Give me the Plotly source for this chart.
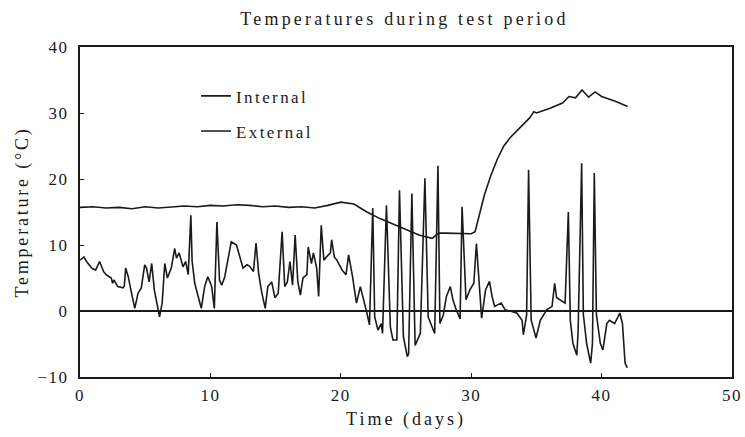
import plotly.graph_objects as go

# Internal temperature (days, °C)
int_days = [0, 1, 2, 3, 4, 5, 6, 7, 8, 9, 10, 11, 12, 13, 14, 15, 16, 17, 18, 19,
            20, 21, 22, 23, 24, 25, 26, 27, 27.5, 28, 29, 30, 30.3, 30.7, 31, 31.5,
            32, 32.5, 33, 33.5, 34, 34.5, 34.8, 35, 36, 37, 37.5, 38, 38.5, 39,
            39.5, 40, 41, 42]
int_temps = [15.7, 15.8, 15.6, 15.7, 15.5, 15.8, 15.6, 15.7, 15.9, 15.8, 16.0, 15.9,
             16.1, 16.0, 15.8, 15.9, 15.7, 15.8, 15.6, 16.0, 16.5, 16.2, 15.0, 14.0,
             13.2, 12.3, 11.5, 11.0, 11.8, 11.8, 11.8, 11.7, 12.0, 15.0, 17.5, 20.5,
             23.0, 25.0, 26.3, 27.3, 28.3, 29.3, 30.2, 30.0, 30.7, 31.5, 32.5, 32.3,
             33.5, 32.4, 33.2, 32.5, 31.8, 31.0]

# External temperature (days, °C)
ext_days = [0.0, 0.3, 0.5, 0.9, 1.2, 1.5, 1.8, 2.0, 2.4, 2.5, 2.6, 2.9, 3.3, 3.4, 3.5,
            3.7, 3.9, 4.2, 4.45, 4.7, 4.96, 5.1, 5.3, 5.5, 5.7, 6.1, 6.3, 6.5, 6.7,
            7.0, 7.26, 7.4, 7.6, 7.9, 8.1, 8.3, 8.5, 8.6, 8.8, 9.1, 9.3, 9.56, 9.8,
            10.0, 10.1, 10.3, 10.5, 10.7, 10.87, 11.1, 11.4, 11.6, 12.0, 12.3, 12.5,
            12.8, 13.0, 13.3, 13.5, 13.7, 13.9, 14.2, 14.4, 14.7, 14.95, 15.2, 15.5,
            15.7, 15.9, 16.1, 16.3, 16.5, 16.7, 16.9, 17.1, 17.4, 17.5, 17.75, 17.9,
            18.15, 18.3, 18.5, 18.7, 18.9, 19.2, 19.3, 19.5, 19.7, 20.1, 20.4, 20.6,
            20.9, 21.2, 21.5, 21.7, 22.0, 22.2, 22.45, 22.6, 22.85, 23.1, 23.2, 23.5,
            23.8, 24.0, 24.3, 24.5, 24.8, 25.1, 25.2, 25.45, 25.7, 26.1, 26.45, 26.7,
            27.0, 27.2, 27.45, 27.6, 27.86, 28.1, 28.4, 28.6, 28.85, 29.15, 29.3, 29.6,
            29.9, 30.2, 30.4, 30.6, 30.8, 31.1, 31.4, 31.6, 31.8, 32.1, 32.3, 32.6,
            33.0, 33.5, 33.9, 34.0, 34.25, 34.4, 34.6, 34.97, 35.3, 35.8, 36.2, 36.4,
            36.55, 36.9, 37.2, 37.45, 37.6, 37.8, 38.1, 38.2, 38.47, 38.6, 38.85, 39.16,
            39.3, 39.44, 39.6, 39.9, 40.1, 40.4, 40.6, 41.0, 41.4, 41.6, 41.8, 41.97]
ext_temps = [7.7, 8.2, 7.5, 6.5, 6.2, 7.5, 6.0, 5.5, 5.0, 4.2, 4.7, 3.7, 3.5, 3.8, 6.5,
             5.2, 3.2, 0.4, 2.7, 3.5, 7.0, 6.5, 4.4, 7.2, 3.2, -0.9, 1.2, 7.2, 5.0,
             6.5, 9.5, 8.0, 8.8, 6.7, 7.5, 5.5, 14.5, 7.5, 4.2, 1.7, 0.4, 3.7, 5.2,
             4.2, 3.7, 0.4, 13.5, 4.7, 3.9, 5.2, 8.5, 10.5, 10.0, 7.7, 6.5,
             7.0, 6.8, 6.0, 10.3, 5.7, 3.2, 0.4, 3.7, 4.4, 2.0, 2.7, 12.0,
             3.7, 4.4, 7.5, 3.9, 11.5, 4.5, 2.4, 5.0, 5.5, 9.7, 7.2, 8.8,
             6.5, 2.2, 13.0, 7.7, 8.2, 8.8, 10.8, 8.2, 7.7, 6.2, 5.5, 8.5,
             5.2, 1.2, 3.7, 2.2, -0.3, -2.1, 15.6, -0.9, -2.9, -1.9, -3.4, 16.0,
             -2.4, -4.4, -4.4, 18.3, -3.9, -6.9, -6.5, 17.8, -5.2, -3.4, 20.1, -0.9,
             -2.4, -3.4, 22.0, -1.9, -0.6, 2.2, 3.7, 1.7, 0.2, -1.2, 15.8, 1.7,
             3.2, 4.2, 10.2, 5.0, -1.1, 3.2, 4.5, 2.2, 0.7, 1.0, 1.2, 0.2,
             0.0, -0.3, -1.4, -3.6, -0.6, 21.4, -1.4, -4.1, -1.4, 0.2, 0.7, 4.2,
             2.0, 1.5, 1.2, 15.0, -1.4, -4.9, -6.7, -3.0, 22.4, -0.5, -4.9, -7.9,
             -4.9, 20.9, -0.5, -4.9, -5.9, -1.9, -1.4, -1.9, -0.3, -1.9, -7.9, -8.6]

x_ticks = [0, 10, 20, 30, 40, 50]
x_ticklabels = ["0", "10", "20", "30", "40", "50"]
y_ticks = [-10, 0, 10, 20, 30, 40]
y_ticklabels = ["\u221210", "0", "10", "20", "30", "40"]

FONT = "Liberation Serif, Times New Roman, serif"
INK = "#1a1a1a"


def spaced(text, px):
    return f'<span style="letter-spacing:{px}px">{text}</span>'


fig = go.Figure()
fig.add_trace(go.Scatter(x=int_days, y=int_temps, mode="lines", name=spaced("Internal", 2.4),
                         legendgroup="a", line=dict(color=INK, width=1.6)))
fig.add_trace(go.Scatter(x=ext_days, y=ext_temps, mode="lines", name=spaced("External", 2.4),
                         legendgroup="b", line=dict(color=INK, width=1.6)))

fig.update_layout(
    width=745, height=437,
    margin=dict(l=80, r=13, t=47, b=60, autoexpand=False),
    paper_bgcolor="white", plot_bgcolor="white",
    font=dict(family=FONT, size=17, color=INK),
    title=dict(text=spaced("Temperatures during test period", 3.2), x=0.543, xanchor="center",
               y=0.958, yanchor="middle", font=dict(family=FONT, size=18, color=INK)),
    showlegend=True,
    legend=dict(x=0.178, y=0.905, xanchor="left", yanchor="top",
                bgcolor="rgba(0,0,0,0)", font=dict(family=FONT, size=17, color=INK),
                tracegroupgap=10, traceorder="grouped"),
)
fig.update_xaxes(range=[0, 50], tickvals=x_ticks,
                 ticktext=[spaced(t, 1.5) for t in x_ticklabels],
                 ticks="inside", ticklen=4, automargin=False,
                 tickcolor=INK, showline=True, linecolor=INK, linewidth=2, mirror=True,
                 showgrid=False, zeroline=False, ticklabelstandoff=2,
                 title=dict(text=spaced("Time (days)", 3.0), font=dict(family=FONT, size=18), standoff=8),
                 tickfont=dict(family=FONT, size=17))
fig.update_yaxes(range=[-10, 40], tickvals=y_ticks,
                 ticktext=[spaced(t, 1.5) for t in y_ticklabels],
                 ticks="inside", ticklen=4, automargin=False,
                 tickcolor=INK, showline=True, linecolor=INK, linewidth=2, mirror=True,
                 showgrid=False, zeroline=True, zerolinecolor=INK, zerolinewidth=1.6,
                 ticklabelstandoff=6,
                 title=dict(text=spaced("Temperature (°C)", 2.8), font=dict(family=FONT, size=18), standoff=4),
                 tickfont=dict(family=FONT, size=17))

fig.write_html("out.html")
